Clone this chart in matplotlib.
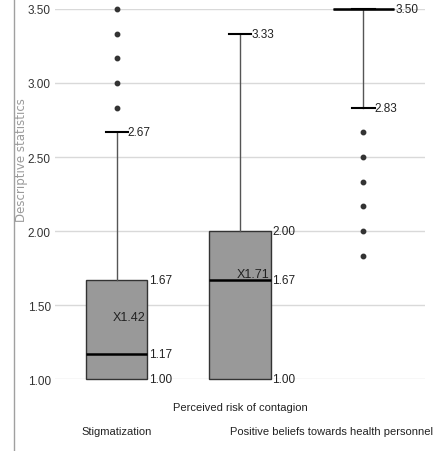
import matplotlib.pyplot as plt
from matplotlib.lines import Line2D

# box statistics
categories = ["Stigmatization", "Perceived risk of contagion",
              "Positive beliefs towards health personnel"]
q1 = [1.00, 1.00, 3.50]
median = [1.17, 1.67, 3.50]
q3 = [1.67, 2.00, 3.50]
whis_lo = [1.00, 1.00, 2.83]
whis_hi = [2.67, 3.33, 3.50]
means = [1.42, 1.71, None]
outliers = [
    [2.83, 3.00, 3.17, 3.33, 3.50],
    [],
    [1.83, 2.00, 2.17, 2.33, 2.50, 2.67],
]
yticks = [1.00, 1.50, 2.00, 2.50, 3.00, 3.50]

plt.rcParams['font.family'] = ['DejaVu Sans']
narrow = dict(family=['Liberation Sans Narrow', 'Liberation Sans'])

fig = plt.figure(figsize=(4.36, 4.52), dpi=100)
ax = fig.add_axes([0.126, 0.159, 0.849, 0.819])

stats = []
for i in range(len(categories)):
    s = dict(med=median[i], q1=q1[i], q3=q3[i], whislo=whis_lo[i],
             whishi=whis_hi[i], fliers=outliers[i], label="")
    stats.append(s)

pos = [1, 2, 3]
res = ax.bxp(stats, positions=pos, widths=0.5, patch_artist=True,
             showmeans=False, capwidths=0.18,
             boxprops=dict(facecolor="#999999", edgecolor="#333333", linewidth=1.0),
             medianprops=dict(color="black", linewidth=1.8),
             whiskerprops=dict(color="#555555", linewidth=1.0),
             capprops=dict(color="black", linewidth=1.5),
             flierprops=dict(marker="o", markersize=3.2, markerfacecolor="#333333",
                             markeredgecolor="#333333"))
for k in res:
    for a in res[k]:
        a.set_clip_on(False)
# lower caps sit on the box edge for the first two boxes
for i in range(2):
    res['caps'][2 * i].set_visible(False)

ax.set_xlim(0.5, 3.5)
ax.set_ylim(1.0, 3.5)
ax.set_yticks(yticks)
ax.set_yticklabels(["%.2f" % t for t in yticks], fontsize=8.5, color="#333333", **narrow)
ax.tick_params(axis="y", length=0, pad=3)
ax.set_xticks([])
ax.grid(axis="y", color="#d9d9d9", linewidth=1.0)
ax.set_axisbelow(True)
for sp in ax.spines.values():
    sp.set_visible(False)

fig.text(21 / 436, 1 - 160 / 452, "Descriptive statistics", rotation=90,
         fontsize=8.5, color="#9a9a9a", ha="center", va="center")

# value labels
for i, p in enumerate(pos):
    xr = p + 0.25 + 0.01
    if i < 2:
        vals = sorted(set([q1[i], median[i], q3[i]]))
        for v in vals:
            ax.text(xr, v, "%.2f" % v, fontsize=8.5, va="center", ha="left",
                    color="#222222", **narrow)
        ax.text(p + 0.09, whis_hi[i], "%.2f" % whis_hi[i], fontsize=8.5,
                va="center", ha="left", color="#222222", **narrow)
        ax.text(p - 0.03, means[i], "X%.2f" % means[i], fontsize=9, va="center",
                ha="left", color="#222222", **narrow)
    else:
        ax.text(xr, q3[i], "%.2f" % q3[i], fontsize=8.5, va="center", ha="left",
                color="#222222", clip_on=False, **narrow)
        ax.text(p + 0.09, whis_lo[i], "%.2f" % whis_lo[i], fontsize=8.5,
                va="center", ha="left", color="#222222", **narrow)

# staggered category labels (figure pixel rows 432 / 408)
label_rows = [432, 408, 432]
for i, p in enumerate(pos):
    x_fig = ax.transData.transform((p, 1.0))[0] / fig.bbox.width
    if i == 2:
        fig.text(433 / 436, 1 - label_rows[i] / 452, categories[i], fontsize=8,
                 ha="right", va="center", color="#222222", **narrow)
    else:
        fig.text(x_fig, 1 - label_rows[i] / 452, categories[i], fontsize=8,
                 ha="center", va="center", color="#222222", **narrow)

fig.add_artist(Line2D([14 / 436, 14 / 436], [0, 1], color="#a0a0a0",
                      linewidth=1.0, transform=fig.transFigure))

fig.savefig("out.png", dpi=100)
